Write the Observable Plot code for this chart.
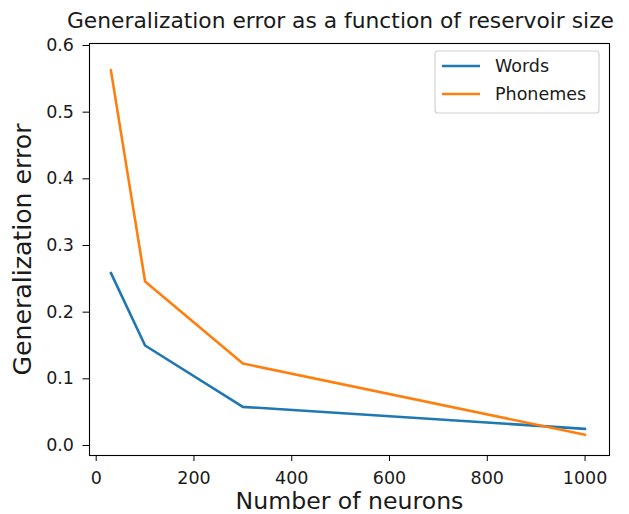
<!DOCTYPE html>
<html>
<head>
<meta charset="utf-8">
<script src="https://cdn.jsdelivr.net/npm/d3@7"></script>
<script src="https://cdn.jsdelivr.net/npm/@observablehq/plot@0.6"></script>
<style>
  html, body { margin: 0; padding: 0; background: #fff; }
  svg { display: block; }
</style>
</head>
<body>
<div id="chart"></div>
<script>
// ---- data ----
const sizes = [30, 100, 300, 1000];
const wordsErr = [0.259, 0.150, 0.058, 0.025];
const phonemesErr = [0.563, 0.246, 0.123, 0.016];
const seriesNames = ["Words", "Phonemes"];
const seriesColors = ["#1f77b4", "#ff7f0e"];
const xTicks = [0, 200, 400, 600, 800, 1000];
const yTicks = [0, 0.1, 0.2, 0.3, 0.4, 0.5, 0.6];
const titleText = "Generalization error as a function of reservoir size";
const xLabel = "Number of neurons";
const yLabel = "Generalization error";

const rows = [];
sizes.forEach((s, i) => {
  rows.push({series: seriesNames[0], x: s, y: wordsErr[i]});
  rows.push({series: seriesNames[1], x: s, y: phonemesErr[i]});
});

const W = 629, H = 514;
const mL = 89, mR = 20, mT = 43, mB = 59;
const font = "DejaVu Sans";
const ink = "#1a1a1a";

const plot = Plot.plot({
  width: W,
  height: H,
  marginLeft: mL,
  marginRight: mR,
  marginTop: mT,
  marginBottom: mB,
  style: {fontFamily: font, background: "#fff", color: ink},
  x: {domain: [-13.7, 1050]},
  y: {domain: [-0.015, 0.603]},
  color: {domain: seriesNames, range: seriesColors},
  marks: [
    Plot.line(rows, {x: "x", y: "y", z: "series", stroke: "series", strokeWidth: 2.6}),
    Plot.frame({stroke: "#000", strokeWidth: 1.1}),
    Plot.axisX({ticks: xTicks, tickSize: 6, tickPadding: 10.5, fontSize: 17.5, label: null, tickFormat: d3.format("d"), stroke: "#000", fill: ink}),
    Plot.axisY({ticks: yTicks, tickSize: 6.5, tickPadding: 9, fontSize: 17.5, label: null, tickFormat: d3.format(".1f"), stroke: "#000", fill: ink}),
    Plot.text([titleText], {frameAnchor: "top", text: d => d, dx: -9, dy: -22, fontSize: 21.8, lineAnchor: "middle", fill: ink}),
    Plot.text([xLabel], {frameAnchor: "bottom", text: d => d, dy: 45.8, fontSize: 23.6, lineAnchor: "middle", fill: ink}),
    Plot.text([yLabel], {frameAnchor: "left", text: d => d, dx: -67, rotate: -90, textAnchor: "middle", fontSize: 25.2, lineAnchor: "middle", fill: ink})
  ]
});

document.getElementById("chart").appendChild(plot);

// ---- legend (matplotlib-style, upper right) ----
const svg = d3.select(plot);
const frameRight = W - mR;
const boxW = 164, boxH = 62;
const bx = frameRight - 10 - boxW, by = mT + 8;
const lg = svg.append("g").attr("font-family", font).attr("font-size", 17.5).attr("text-anchor", "start");
lg.append("rect").attr("x", bx).attr("y", by).attr("width", boxW).attr("height", boxH)
  .attr("rx", 3).attr("fill", "#fff").attr("fill-opacity", 0.8)
  .attr("stroke", "#d0d0d0").attr("stroke-width", 1.1);
seriesNames.forEach((name, i) => {
  const cy = by + 15 + i * 28;
  lg.append("line").attr("x1", bx + 7).attr("x2", bx + 45).attr("y1", cy).attr("y2", cy)
    .attr("stroke", seriesColors[i]).attr("stroke-width", 2.6);
  lg.append("text").attr("x", bx + 60).attr("y", cy).attr("dy", "0.35em")
    .attr("text-anchor", "start").attr("fill", ink).text(name);
});
</script>
</body>
</html>
